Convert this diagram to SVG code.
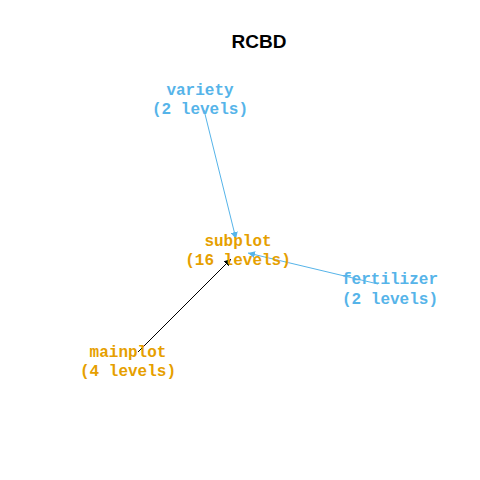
<svg xmlns="http://www.w3.org/2000/svg" width="480" height="480" viewBox="0 0 480 480">
<style>
.lbl{font-family:"Liberation Mono","DejaVu Sans Mono",monospace;font-weight:bold;font-size:16px;text-anchor:middle}
.b{fill:#56B4E9}
.o{fill:#E69F00}
.title{font-family:"Liberation Sans",Arial,sans-serif;font-weight:bold;font-size:19px;text-anchor:middle;fill:#000}
</style>
<defs>
<marker id="ab" viewBox="0 0 10 10" refX="10" refY="5" markerWidth="7" markerHeight="7" orient="auto" markerUnits="userSpaceOnUse"><path d="M0,0L10,5L0,10z" fill="#56B4E9"/></marker>
<marker id="ak" viewBox="0 0 10 10" refX="10" refY="5" markerWidth="7" markerHeight="7" orient="auto" markerUnits="userSpaceOnUse"><path d="M0,0L10,5L0,10z" fill="#000"/></marker>
</defs>
<rect width="480" height="480" fill="#fff"/>
<text class="title" x="259" y="48">RCBD</text>
<g id="connectors" fill="none" stroke-width="1">
<line x1="204" y1="110" x2="236" y2="239" stroke="#56B4E9" marker-end="url(#ab)"/>
<line x1="378" y1="284" x2="248" y2="253" stroke="#56B4E9" marker-end="url(#ab)"/>
<line x1="138" y1="352" x2="231" y2="259" stroke="#000" marker-end="url(#ak)"/>
</g>
<g id="variety"><text class="lbl b" x="200" y="95">variety</text><text class="lbl b" x="200" y="114">(2 levels)</text></g>
<g id="subplot"><text class="lbl o" x="238" y="246">subplot</text><text class="lbl o" x="238" y="265">(16 levels)</text></g>
<g id="fertilizer"><text class="lbl b" x="390" y="284">fertilizer</text><text class="lbl b" x="390" y="304">(2 levels)</text></g>
<g id="mainplot"><text class="lbl o" x="128" y="357">mainplot</text><text class="lbl o" x="128" y="376">(4 levels)</text></g>
</svg>
